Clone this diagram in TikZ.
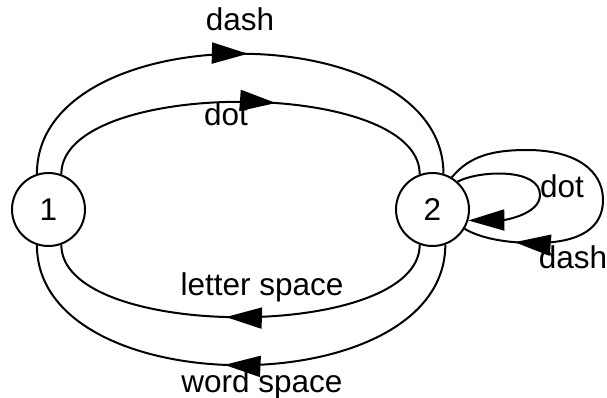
\documentclass[tikz,border=0pt]{standalone}
\usepackage{fontspec}
\setmainfont{Liberation Sans}
\usetikzlibrary{arrows.meta,decorations.markings}
\newcommand\edgefont{\fontsize{31.5}{31.5}\selectfont}
\tikzset{
  state/.style={circle,draw,line width=2pt,minimum size=73pt,inner sep=0pt,font=\edgefont},
  edge/.style={line width=2pt},
  bigtip/.style={-{Triangle[length=36pt,width=21pt]}},
  midarrow/.style={postaction={decorate,decoration={markings,
      mark=at position #1 with {\arrow{Triangle[length=36pt,width=21pt]}}}}},
  lab/.style={anchor=base,inner sep=0pt,font=\edgefont}
}
\begin{document}
\begin{tikzpicture}[x=1pt,y=-1pt]
\useasboundingbox (0,0) rectangle (607,398);

% states
\node[state] (n1) at (48.5,209.5) {1};
\node[state] (n2) at (432.5,209.5) {2};

% 1 -> 2 transitions
\draw[edge,midarrow=0.515] (n1.108) .. controls (37,13.7) and (443,13.7) .. (n2.73);
\draw[edge,midarrow=0.585] (n1.70) .. controls (61,77.6) and (420,77.6) .. (n2.110);

% 2 -> 1 transitions
\draw[edge,midarrow=0.535] (n2.250) .. controls (420,341.4) and (61,341.4) .. (n1.290);
\draw[edge,midarrow=0.532] (n2.290) .. controls (445,405.3) and (37,405.3) .. (n1.252);

% self loops on 2
\draw[edge,bigtip] (n2.48) .. controls (480,170) and (540,168) .. (540,195)
  .. controls (540,214) and (505,220) .. (n2.343);
\draw[edge,midarrow=0.85] (n2.59) .. controls (470,155) and (495,150) .. (527,150)
  .. controls (575,150) and (603,170) .. (603,200)
  .. controls (603,228) and (580,243) .. (535,243)
  .. controls (505,243) and (480,238) .. (n2.329);

% labels
\node[lab] (ldash) at (240,31) {dash};
\node[lab] (ldot) at (226,126) {dot};
\node[lab] (lletter) at (262,295) {letter space};
\node[lab] (lword) at (262,392) {word space};
\node[lab] (lloopdot) at (562,197) {dot};
\node[lab] (lloopdash) at (573,268) {dash};
\end{tikzpicture}
\end{document}
